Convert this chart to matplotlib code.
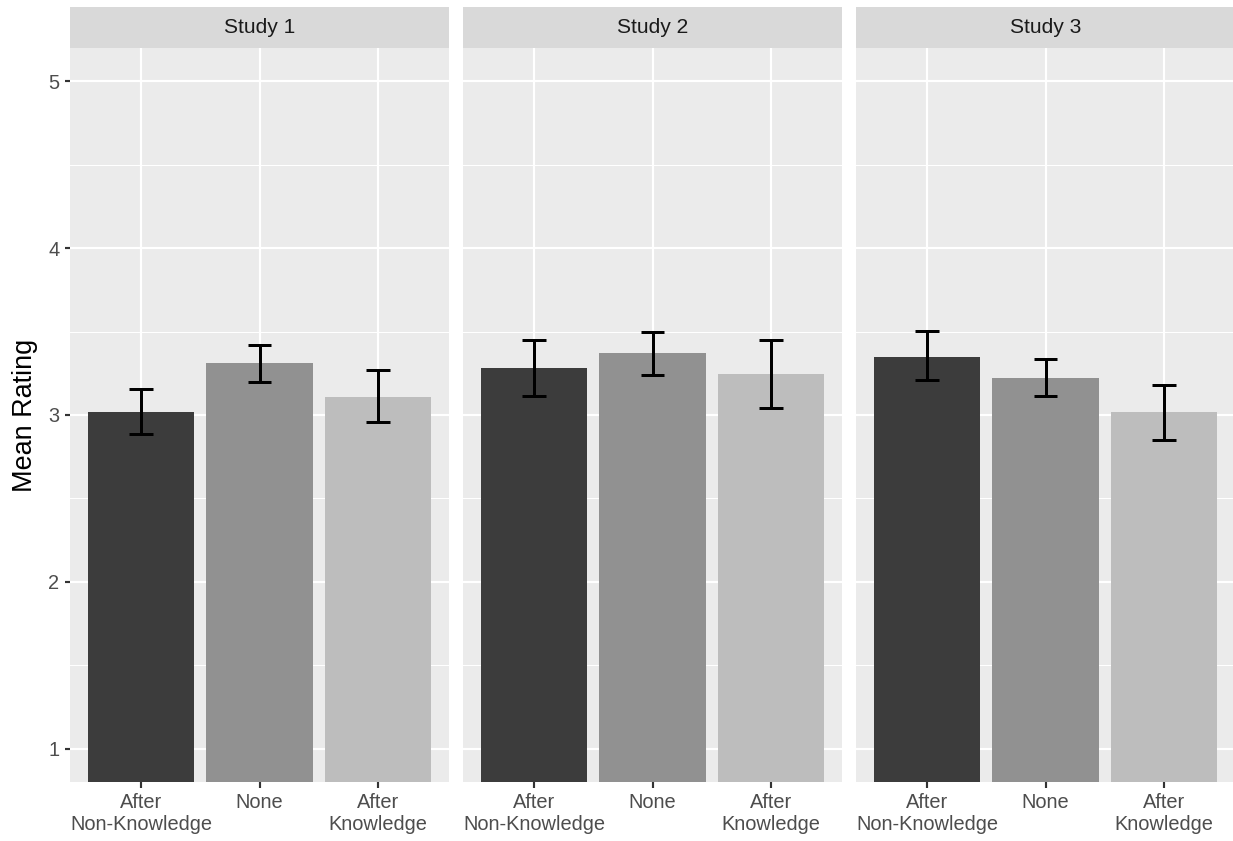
import numpy as np
import matplotlib
matplotlib.use('Agg')
import matplotlib.pyplot as plt

plt.rcParams['font.family'] = ['Liberation Sans', 'DejaVu Sans']

studies = ['Study 1', 'Study 2', 'Study 3']
conditions = ['After\nNon-Knowledge', 'None', 'After\nKnowledge']
bar_colors = ['#3c3c3c', '#919191', '#bdbdbd']

# mean rating and error bar limits per study, in condition order
means = [
    [3.02, 3.31, 3.11],
    [3.28, 3.37, 3.245],
    [3.35, 3.22, 3.015],
]
err_low = [
    [2.885, 3.20, 2.96],
    [3.113, 3.24, 3.043],
    [3.209, 3.111, 2.853],
]
err_high = [
    [3.153, 3.417, 3.271],
    [3.447, 3.495, 3.447],
    [3.503, 3.335, 3.181],
]

W, H = 1233, 841
dpi = 144
fig = plt.figure(figsize=(W / dpi, H / dpi), dpi=dpi)

panel_left = 70
panel_w = 379
panel_step = 393
panel_top = 48
panel_bottom = 782
strip_top = 7

x = np.arange(1, len(conditions) + 1)

for i, study in enumerate(studies):
    left = panel_left + i * panel_step
    ax = fig.add_axes([left / W, (H - panel_bottom) / H,
                       panel_w / W, (panel_bottom - panel_top) / H])
    ax.set_facecolor('#ebebeb')
    ax.set_xlim(0.4, 3.6)
    ax.set_ylim(0.8, 5.2)
    ax.set_yticks([1, 2, 3, 4, 5])
    ax.set_yticks([1.5, 2.5, 3.5, 4.5], minor=True)
    ax.set_xticks(x)
    ax.grid(True, which='major', color='white', linewidth=1.07)
    ax.grid(True, which='minor', axis='y', color='white', linewidth=0.53)
    ax.set_axisbelow(True)
    for s in ax.spines.values():
        s.set_visible(False)

    ax.bar(x, means[i], width=0.9, color=bar_colors, zorder=2)
    ax.vlines(x, err_low[i], err_high[i], color='black', linewidth=1.5, zorder=3)
    ax.hlines(err_low[i], x - 0.1, x + 0.1, color='black', linewidth=1.5, zorder=3)
    ax.hlines(err_high[i], x - 0.1, x + 0.1, color='black', linewidth=1.5, zorder=3)

    ax.tick_params(axis='both', which='major', length=2.75, width=1.07,
                   color='#333333', labelcolor='#4d4d4d', labelsize=10, pad=2.5)
    ax.tick_params(axis='y', which='minor', length=0)
    ax.set_xticklabels(conditions, linespacing=1.2)
    if i == 0:
        ax.set_ylabel('Mean Rating', fontsize=13.5, color='black', labelpad=5)
    else:
        ax.set_yticklabels([])
        ax.tick_params(axis='y', which='major', length=0)

    # facet strip
    sax = fig.add_axes([left / W, (H - panel_top) / H,
                        panel_w / W, (panel_top - strip_top) / H])
    sax.set_facecolor('#d9d9d9')
    sax.set_xticks([])
    sax.set_yticks([])
    for s in sax.spines.values():
        s.set_visible(False)
    sax.text(0.5, 0.5, study, ha='center', va='center', fontsize=10.5,
             color='#1a1a1a', transform=sax.transAxes)

fig.savefig('out.png', dpi=dpi)
